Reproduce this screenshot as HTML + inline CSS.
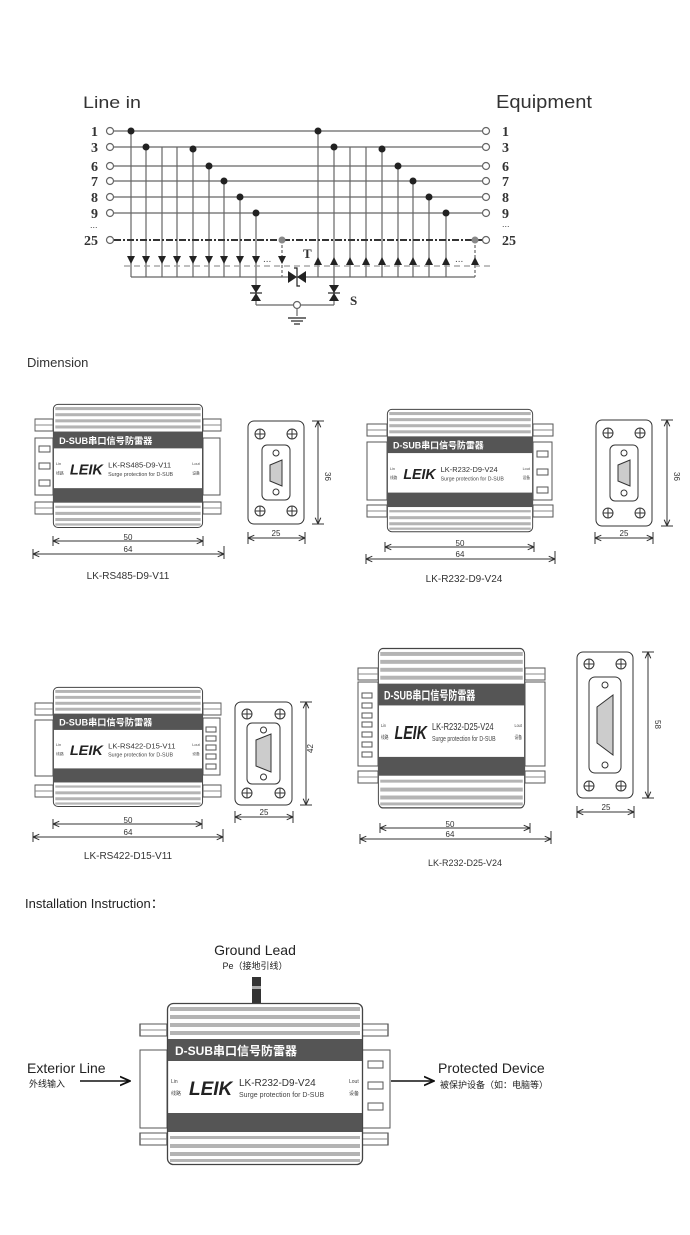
<!DOCTYPE html>
<html><head><meta charset="utf-8"><style>
html,body{margin:0;padding:0;background:#fff}
svg{display:block}
text{font-family:"Liberation Sans","Noto Sans CJK SC",sans-serif}
text.sf{font-family:"Liberation Serif","Noto Serif CJK SC",serif}
</style></head><body>
<svg width="690" height="1235" viewBox="0 0 690 1235" xmlns="http://www.w3.org/2000/svg">
<defs>
<marker id="ar" viewBox="0 0 10 10" refX="9" refY="5" markerWidth="7" markerHeight="7" orient="auto-start-reverse"><path d="M0,1 L9,5 L0,9" fill="none" stroke="#333" stroke-width="1.5"/></marker>
<marker id="ar2" viewBox="0 0 10 10" refX="9" refY="5" markerWidth="8" markerHeight="8" orient="auto"><path d="M0,1 L9,5 L0,9" fill="none" stroke="#111" stroke-width="1.6"/></marker>
<g id="body">
<rect x="0.5" y="0.5" width="195" height="161" rx="6" fill="#fff" stroke="#444" stroke-width="1.3"/>
<g fill="#b4b4b4"><rect x="3" y="4" width="190" height="4"/><rect x="3" y="12" width="190" height="4"/><rect x="3" y="20" width="190" height="4"/><rect x="3" y="28" width="190" height="4"/>
<rect x="3" y="133" width="190" height="3"/><rect x="3" y="141" width="190" height="4"/><rect x="3" y="149" width="190" height="4"/><rect x="3" y="156" width="190" height="3"/></g>
<rect x="1" y="36" width="194" height="22" fill="#555"/>
<rect x="1" y="110" width="194" height="19" fill="#555"/>
</g>
<g id="tab"><rect x="0" y="0" width="20" height="12" fill="#fff" stroke="#555"/><line x1="0" y1="6" x2="20" y2="6" stroke="#888"/></g>
<g id="scr"><circle r="5" fill="#fff" stroke="#333"/><line x1="-5" y1="0" x2="5" y2="0" stroke="#333"/><line x1="0" y1="-5" x2="0" y2="5" stroke="#333"/></g>
</defs>

<!-- ===== Circuit ===== -->
<text x="83" y="108" font-size="17" fill="#333" textLength="58" lengthAdjust="spacingAndGlyphs">Line in</text>
<text x="496" y="108" font-size="18" fill="#333" textLength="96" lengthAdjust="spacingAndGlyphs">Equipment</text>
<g font-weight="bold" font-size="14" fill="#333">
<text class="sf" x="91" y="136">1</text><text class="sf" x="91" y="152">3</text><text class="sf" x="91" y="171">6</text><text class="sf" x="91" y="186">7</text><text class="sf" x="91" y="202">8</text><text class="sf" x="91" y="218">9</text><text class="sf" x="84" y="245">25</text>
<text class="sf" x="502" y="136">1</text><text class="sf" x="502" y="152">3</text><text class="sf" x="502" y="171">6</text><text class="sf" x="502" y="186">7</text><text class="sf" x="502" y="202">8</text><text class="sf" x="502" y="218">9</text><text class="sf" x="502" y="245">25</text>
<text class="sf" x="303" y="258" font-size="13">T</text><text class="sf" x="350" y="305" font-size="13">S</text>
</g>
<text x="90" y="228" font-size="9" fill="#444">...</text><text x="502" y="227" font-size="9" fill="#444">...</text>
<g stroke="#666" stroke-width="1.2" fill="none">
<line x1="114" y1="131" x2="482" y2="131"/><line x1="114" y1="147" x2="482" y2="147"/><line x1="114" y1="166" x2="482" y2="166"/><line x1="114" y1="181" x2="482" y2="181"/><line x1="114" y1="197" x2="482" y2="197"/><line x1="114" y1="213" x2="482" y2="213"/>
<line x1="131" y1="131" x2="131" y2="277"/><line x1="146" y1="147" x2="146" y2="277"/><line x1="162" y1="147" x2="162" y2="277"/><line x1="177" y1="147" x2="177" y2="277"/><line x1="193" y1="147" x2="193" y2="277"/><line x1="209" y1="166" x2="209" y2="277"/><line x1="224" y1="181" x2="224" y2="277"/><line x1="240" y1="197" x2="240" y2="277"/><line x1="256" y1="213" x2="256" y2="305"/>
<line x1="318" y1="131" x2="318" y2="277"/><line x1="334" y1="147" x2="334" y2="305"/><line x1="350" y1="147" x2="350" y2="277"/><line x1="366" y1="147" x2="366" y2="277"/><line x1="382" y1="147" x2="382" y2="277"/><line x1="398" y1="166" x2="398" y2="277"/><line x1="413" y1="181" x2="413" y2="277"/><line x1="429" y1="197" x2="429" y2="277"/><line x1="446" y1="213" x2="446" y2="277"/>
<line x1="282" y1="240" x2="282" y2="277" stroke-dasharray="3,2"/><line x1="475" y1="240" x2="475" y2="277" stroke-dasharray="3,2"/>
<line x1="131" y1="277" x2="282" y2="277"/><line x1="282" y1="277" x2="289" y2="277"/><line x1="306" y1="277" x2="475" y2="277"/>
<line x1="256" y1="305" x2="334" y2="305"/><line x1="297" y1="305" x2="297" y2="316"/>
</g>
<line x1="114" y1="240" x2="482" y2="240" stroke="#333" stroke-width="2" stroke-dasharray="7,2,2,2"/>
<line x1="124" y1="266" x2="490" y2="266" stroke="#999" stroke-width="1.2" stroke-dasharray="6,4"/>
<g fill="#fff" stroke="#666" stroke-width="1.2">
<circle cx="110" cy="131" r="3.5"/><circle cx="110" cy="147" r="3.5"/><circle cx="110" cy="166" r="3.5"/><circle cx="110" cy="181" r="3.5"/><circle cx="110" cy="197" r="3.5"/><circle cx="110" cy="213" r="3.5"/><circle cx="110" cy="240" r="3.5"/>
<circle cx="486" cy="131" r="3.5"/><circle cx="486" cy="147" r="3.5"/><circle cx="486" cy="166" r="3.5"/><circle cx="486" cy="181" r="3.5"/><circle cx="486" cy="197" r="3.5"/><circle cx="486" cy="213" r="3.5"/><circle cx="486" cy="240" r="3.5"/>
<circle cx="297" cy="305" r="3.5"/>
</g>
<g fill="#222">
<circle cx="131" cy="131" r="3.5"/><circle cx="146" cy="147" r="3.5"/><circle cx="193" cy="149" r="3.5"/><circle cx="209" cy="166" r="3.5"/><circle cx="224" cy="181" r="3.5"/><circle cx="240" cy="197" r="3.5"/><circle cx="256" cy="213" r="3.5"/>
<circle cx="318" cy="131" r="3.5"/><circle cx="334" cy="147" r="3.5"/><circle cx="382" cy="149" r="3.5"/><circle cx="398" cy="166" r="3.5"/><circle cx="413" cy="181" r="3.5"/><circle cx="429" cy="197" r="3.5"/><circle cx="446" cy="213" r="3.5"/>
</g>
<circle cx="282" cy="240" r="3.5" fill="#888"/><circle cx="475" cy="240" r="3.5" fill="#888"/>
<g fill="#222">
<path d="M127,256 h8 l-4,8z"/><path d="M142,256 h8 l-4,8z"/><path d="M158,256 h8 l-4,8z"/><path d="M173,256 h8 l-4,8z"/><path d="M189,256 h8 l-4,8z"/><path d="M205,256 h8 l-4,8z"/><path d="M220,256 h8 l-4,8z"/><path d="M236,256 h8 l-4,8z"/><path d="M252,256 h8 l-4,8z"/><path d="M278,256 h8 l-4,8z"/>
<path d="M314,265 h8 l-4,-8z"/><path d="M330,265 h8 l-4,-8z"/><path d="M346,265 h8 l-4,-8z"/><path d="M362,265 h8 l-4,-8z"/><path d="M378,265 h8 l-4,-8z"/><path d="M394,265 h8 l-4,-8z"/><path d="M409,265 h8 l-4,-8z"/><path d="M425,265 h8 l-4,-8z"/><path d="M442,265 h8 l-4,-8z"/><path d="M471,265 h8 l-4,-8z"/>
<path d="M288,271 l9,6 l-9,6z"/><path d="M306,271 l-9,6 l9,6z"/>
<path d="M251,285 h10 l-5,8z"/><path d="M251,301 h10 l-5,-8z"/><path d="M329,285 h10 l-5,8z"/><path d="M329,301 h10 l-5,-8z"/>
</g>
<g stroke="#222" stroke-width="1.2" fill="none"><path d="M294,268 h3 v18 h3"/><path d="M250,293 h12"/><path d="M328,293 h12"/>
<line x1="288" y1="318" x2="306" y2="318"/><line x1="291" y1="321" x2="303" y2="321"/><line x1="294" y1="324" x2="300" y2="324"/></g>
<text x="263" y="262" font-size="10" fill="#444">...</text><text x="455" y="262" font-size="10" fill="#444">...</text>

<!-- ===== Dimension ===== -->
<text x="27" y="367" font-size="13" fill="#333">Dimension</text>

<!-- Device 1 -->
<use href="#tab" transform="translate(35,419) scale(0.9,1)"/><use href="#tab" transform="translate(35,502) scale(0.9,1)"/>
<use href="#tab" transform="translate(203,419) scale(0.9,1)"/><use href="#tab" transform="translate(203,502) scale(0.9,1)"/>
<rect x="35" y="438" width="18" height="57" fill="#fff" stroke="#555"/>
<rect x="39" y="446" width="11" height="6" fill="#fff" stroke="#555"/><rect x="39" y="463" width="11" height="6" fill="#fff" stroke="#555"/><rect x="39" y="480" width="11" height="6" fill="#fff" stroke="#555"/>
<rect x="203" y="438" width="17" height="57" fill="#fff" stroke="#555"/>
<g transform="translate(53,404) scale(0.765,0.765)">
<use href="#body"/>
<text x="8" y="52" font-size="12" font-weight="bold" fill="#fff">D-SUB串口信号防雷器</text>
<text x="22" y="92" font-size="19" font-weight="bold" font-style="italic" fill="#222">LEIK</text>
<text x="72" y="83" font-size="10" fill="#333">LK-RS485-D9-V11</text>
<text x="72" y="94" font-size="7" fill="#444">Surge protection for D-SUB</text>
<text x="4" y="80" font-size="5" fill="#444">Lin</text><text x="4" y="92" font-size="5" fill="#444">线路</text>
<text x="182" y="80" font-size="5" fill="#444">Lout</text><text x="182" y="92" font-size="5" fill="#444">设备</text>
</g>
<line x1="53" y1="541" x2="203" y2="541" stroke="#333" marker-start="url(#ar)" marker-end="url(#ar)"/>
<line x1="33" y1="554" x2="224" y2="554" stroke="#333" marker-start="url(#ar)" marker-end="url(#ar)"/>
<g stroke="#333"><line x1="53" y1="536" x2="53" y2="546"/><line x1="203" y1="536" x2="203" y2="546"/><line x1="33" y1="549" x2="33" y2="559"/><line x1="224" y1="546" x2="224" y2="559"/></g>
<text x="128" y="540" font-size="8" text-anchor="middle" fill="#333">50</text><text x="128" y="552" font-size="8" text-anchor="middle" fill="#333">64</text>
<text x="128" y="579" font-size="10" text-anchor="middle" fill="#333">LK-RS485-D9-V11</text>
<g transform="translate(248,421)">
<rect x="0" y="0" width="56" height="103" rx="6" fill="#fff" stroke="#333"/>
<use href="#scr" x="12" y="13"/><use href="#scr" x="44" y="13"/><use href="#scr" x="12" y="90"/><use href="#scr" x="44" y="90"/>
<rect x="14" y="24" width="28" height="55" rx="5" fill="#fff" stroke="#333"/>
<circle cx="28" cy="32" r="3" fill="#fff" stroke="#333"/><circle cx="28" cy="71" r="3" fill="#fff" stroke="#333"/>
<path d="M22,44 L34,39 L34,65 L22,60z" fill="#ccc" stroke="#333"/>
</g>
<line x1="318" y1="421" x2="318" y2="524" stroke="#333" marker-start="url(#ar)" marker-end="url(#ar)"/>
<g stroke="#333"><line x1="312" y1="421" x2="324" y2="421"/><line x1="312" y1="524" x2="324" y2="524"/><line x1="248" y1="532" x2="248" y2="544"/><line x1="305" y1="532" x2="305" y2="544"/></g>
<text x="325" y="472" font-size="8" fill="#333" transform="rotate(90 325 472)">36</text>
<line x1="248" y1="538" x2="305" y2="538" stroke="#333" marker-start="url(#ar)" marker-end="url(#ar)"/>
<text x="276" y="536" font-size="8" text-anchor="middle" fill="#333">25</text>

<!-- Device 2 -->
<use href="#tab" transform="translate(367,424)"/><use href="#tab" transform="translate(367,505)"/>
<use href="#tab" transform="translate(533,424)"/><use href="#tab" transform="translate(533,505)"/>
<rect x="367" y="442" width="20" height="58" fill="#fff" stroke="#555"/>
<rect x="533" y="442" width="19" height="58" fill="#fff" stroke="#555"/>
<rect x="537" y="451" width="11" height="6" fill="#fff" stroke="#555"/><rect x="537" y="469" width="11" height="6" fill="#fff" stroke="#555"/><rect x="537" y="487" width="11" height="6" fill="#fff" stroke="#555"/>
<g transform="translate(387,409) scale(0.745,0.76)">
<use href="#body"/>
<text x="8" y="52" font-size="12" font-weight="bold" fill="#fff">D-SUB串口信号防雷器</text>
<text x="22" y="92" font-size="19" font-weight="bold" font-style="italic" fill="#222">LEIK</text>
<text x="72" y="83" font-size="10" fill="#333">LK-R232-D9-V24</text>
<text x="72" y="94" font-size="7" fill="#444">Surge protection for D-SUB</text>
<text x="4" y="80" font-size="5" fill="#444">Lin</text><text x="4" y="92" font-size="5" fill="#444">线路</text>
<text x="182" y="80" font-size="5" fill="#444">Lout</text><text x="182" y="92" font-size="5" fill="#444">设备</text>
</g>
<line x1="385" y1="547" x2="534" y2="547" stroke="#333" marker-start="url(#ar)" marker-end="url(#ar)"/>
<line x1="366" y1="559" x2="555" y2="559" stroke="#333" marker-start="url(#ar)" marker-end="url(#ar)"/>
<g stroke="#333"><line x1="385" y1="542" x2="385" y2="552"/><line x1="534" y1="542" x2="534" y2="552"/><line x1="366" y1="554" x2="366" y2="564"/><line x1="555" y1="551" x2="555" y2="564"/></g>
<text x="460" y="546" font-size="8" text-anchor="middle" fill="#333">50</text><text x="460" y="557" font-size="8" text-anchor="middle" fill="#333">64</text>
<text x="464" y="582" font-size="10" text-anchor="middle" fill="#333">LK-R232-D9-V24</text>
<g transform="translate(596,420)">
<rect x="0" y="0" width="56" height="106" rx="6" fill="#fff" stroke="#333"/>
<use href="#scr" x="12" y="13"/><use href="#scr" x="44" y="13"/><use href="#scr" x="12" y="93"/><use href="#scr" x="44" y="93"/>
<rect x="14" y="25" width="28" height="56" rx="5" fill="#fff" stroke="#333"/>
<circle cx="28" cy="33" r="3" fill="#fff" stroke="#333"/><circle cx="28" cy="73" r="3" fill="#fff" stroke="#333"/>
<path d="M22,45 L34,40 L34,66 L22,61z" fill="#ccc" stroke="#333"/>
</g>
<line x1="667" y1="420" x2="667" y2="526" stroke="#333" marker-start="url(#ar)" marker-end="url(#ar)"/>
<g stroke="#333"><line x1="661" y1="420" x2="673" y2="420"/><line x1="661" y1="526" x2="673" y2="526"/><line x1="595" y1="532" x2="595" y2="544"/><line x1="653" y1="532" x2="653" y2="544"/></g>
<text x="674" y="472" font-size="8" fill="#333" transform="rotate(90 674 472)">36</text>
<line x1="595" y1="538" x2="653" y2="538" stroke="#333" marker-start="url(#ar)" marker-end="url(#ar)"/>
<text x="624" y="536" font-size="8" text-anchor="middle" fill="#333">25</text>

<!-- Device 3 -->
<use href="#tab" transform="translate(35,703) scale(0.9,1)"/><use href="#tab" transform="translate(35,785) scale(0.9,1)"/>
<use href="#tab" transform="translate(203,703) scale(0.9,1)"/><use href="#tab" transform="translate(203,785) scale(0.9,1)"/>
<rect x="35" y="720" width="18" height="56" fill="#fff" stroke="#555"/>
<rect x="203" y="718" width="17" height="57" fill="#fff" stroke="#555"/>
<g fill="#fff" stroke="#555"><rect x="206" y="727" width="10" height="5"/><rect x="206" y="736" width="10" height="5"/><rect x="206" y="745" width="10" height="5"/><rect x="206" y="754" width="10" height="5"/><rect x="206" y="764" width="10" height="5"/></g>
<g transform="translate(53,687) scale(0.765,0.74)">
<use href="#body"/>
<text x="8" y="52" font-size="12" font-weight="bold" fill="#fff">D-SUB串口信号防雷器</text>
<text x="22" y="92" font-size="19" font-weight="bold" font-style="italic" fill="#222">LEIK</text>
<text x="72" y="83" font-size="10" fill="#333">LK-RS422-D15-V11</text>
<text x="72" y="94" font-size="7" fill="#444">Surge protection for D-SUB</text>
<text x="4" y="80" font-size="5" fill="#444">Lin</text><text x="4" y="92" font-size="5" fill="#444">线路</text>
<text x="182" y="80" font-size="5" fill="#444">Lout</text><text x="182" y="92" font-size="5" fill="#444">设备</text>
</g>
<line x1="53" y1="824" x2="202" y2="824" stroke="#333" marker-start="url(#ar)" marker-end="url(#ar)"/>
<line x1="33" y1="837" x2="223" y2="837" stroke="#333" marker-start="url(#ar)" marker-end="url(#ar)"/>
<g stroke="#333"><line x1="53" y1="819" x2="53" y2="829"/><line x1="202" y1="819" x2="202" y2="829"/><line x1="33" y1="832" x2="33" y2="842"/><line x1="223" y1="829" x2="223" y2="842"/></g>
<text x="128" y="823" font-size="8" text-anchor="middle" fill="#333">50</text><text x="128" y="835" font-size="8" text-anchor="middle" fill="#333">64</text>
<text x="128" y="859" font-size="10" text-anchor="middle" fill="#333">LK-RS422-D15-V11</text>
<g transform="translate(235,702)">
<rect x="0" y="0" width="57" height="103" rx="6" fill="#fff" stroke="#333"/>
<use href="#scr" x="12" y="12"/><use href="#scr" x="45" y="12"/><use href="#scr" x="12" y="91"/><use href="#scr" x="45" y="91"/>
<rect x="12" y="21" width="33" height="61" rx="5" fill="#fff" stroke="#333"/>
<circle cx="28.5" cy="28" r="3" fill="#fff" stroke="#333"/><circle cx="28.5" cy="75" r="3" fill="#fff" stroke="#333"/>
<path d="M21,38 L36,32 L36,70 L21,64z" fill="#ccc" stroke="#333"/>
</g>
<line x1="306" y1="702" x2="306" y2="805" stroke="#333" marker-start="url(#ar)" marker-end="url(#ar)"/>
<g stroke="#333"><line x1="300" y1="702" x2="312" y2="702"/><line x1="300" y1="805" x2="312" y2="805"/><line x1="235" y1="811" x2="235" y2="823"/><line x1="293" y1="811" x2="293" y2="823"/></g>
<text x="313" y="753" font-size="8" fill="#333" transform="rotate(-90 313 753)">42</text>
<line x1="235" y1="817" x2="293" y2="817" stroke="#333" marker-start="url(#ar)" marker-end="url(#ar)"/>
<text x="264" y="815" font-size="8" text-anchor="middle" fill="#333">25</text>

<!-- Device 4 -->
<use href="#tab" transform="translate(358,668)"/><use href="#tab" transform="translate(358,771)"/>
<use href="#tab" transform="translate(525,668)"/><use href="#tab" transform="translate(525,771)"/>
<rect x="358" y="682" width="20" height="84" fill="#fff" stroke="#555"/>
<g fill="#fff" stroke="#555"><rect x="362" y="693" width="10" height="5"/><rect x="362" y="703" width="10" height="5"/><rect x="362" y="713" width="10" height="5"/><rect x="362" y="722" width="10" height="5"/><rect x="362" y="732" width="10" height="5"/><rect x="362" y="742" width="10" height="5"/><rect x="362" y="752" width="10" height="5"/></g>
<rect x="525" y="682" width="20" height="84" fill="#fff" stroke="#555"/>
<g transform="translate(378,648) scale(0.75,0.99)">
<use href="#body"/>
<text x="8" y="52" font-size="12" font-weight="bold" fill="#fff">D-SUB串口信号防雷器</text>
<text x="22" y="92" font-size="19" font-weight="bold" font-style="italic" fill="#222">LEIK</text>
<text x="72" y="83" font-size="10" fill="#333">LK-R232-D25-V24</text>
<text x="72" y="94" font-size="7" fill="#444">Surge protection for D-SUB</text>
<text x="4" y="80" font-size="5" fill="#444">Lin</text><text x="4" y="92" font-size="5" fill="#444">线路</text>
<text x="182" y="80" font-size="5" fill="#444">Lout</text><text x="182" y="92" font-size="5" fill="#444">设备</text>
</g>
<line x1="380" y1="828" x2="530" y2="828" stroke="#333" marker-start="url(#ar)" marker-end="url(#ar)"/>
<line x1="360" y1="839" x2="551" y2="839" stroke="#333" marker-start="url(#ar)" marker-end="url(#ar)"/>
<g stroke="#333"><line x1="380" y1="823" x2="380" y2="833"/><line x1="530" y1="823" x2="530" y2="833"/><line x1="360" y1="834" x2="360" y2="844"/><line x1="551" y1="831" x2="551" y2="844"/></g>
<text x="450" y="827" font-size="8" text-anchor="middle" fill="#333">50</text><text x="450" y="837" font-size="8" text-anchor="middle" fill="#333">64</text>
<text x="465" y="866" font-size="9" text-anchor="middle" fill="#333">LK-R232-D25-V24</text>
<g transform="translate(577,652)">
<rect x="0" y="0" width="56" height="146" rx="6" fill="#fff" stroke="#333"/>
<use href="#scr" x="12" y="12"/><use href="#scr" x="44" y="12"/><use href="#scr" x="12" y="134"/><use href="#scr" x="44" y="134"/>
<rect x="12" y="25" width="32" height="96" rx="6" fill="#fff" stroke="#333"/>
<circle cx="28" cy="33" r="3" fill="#fff" stroke="#333"/><circle cx="28" cy="113" r="3" fill="#fff" stroke="#333"/>
<path d="M20,55 L36,43 L36,103 L20,91z" fill="#ccc" stroke="#333"/>
</g>
<line x1="648" y1="652" x2="648" y2="798" stroke="#333" marker-start="url(#ar)" marker-end="url(#ar)"/>
<g stroke="#333"><line x1="642" y1="652" x2="654" y2="652"/><line x1="642" y1="798" x2="654" y2="798"/><line x1="577" y1="806" x2="577" y2="818"/><line x1="634" y1="806" x2="634" y2="818"/></g>
<text x="655" y="720" font-size="8" fill="#333" transform="rotate(90 655 720)">58</text>
<line x1="577" y1="812" x2="634" y2="812" stroke="#333" marker-start="url(#ar)" marker-end="url(#ar)"/>
<text x="606" y="810" font-size="8" text-anchor="middle" fill="#333">25</text>

<!-- ===== Installation ===== -->
<text x="25" y="908" font-size="13" fill="#222">Installation Instruction：</text>
<text x="255" y="955" font-size="14" text-anchor="middle" fill="#222">Ground Lead</text>
<text x="255" y="969" font-size="9" text-anchor="middle" fill="#222">Pe（接地引线）</text>
<rect x="252" y="977" width="9" height="27" fill="#333"/><rect x="252" y="986" width="9" height="3" fill="#aaa"/>
<use href="#tab" transform="translate(140,1024) scale(1.35,1)"/><use href="#tab" transform="translate(140,1133) scale(1.35,1)"/>
<use href="#tab" transform="translate(362,1024) scale(1.3,1)"/><use href="#tab" transform="translate(362,1133) scale(1.3,1)"/>
<rect x="140" y="1050" width="27" height="78" fill="#fff" stroke="#555"/>
<rect x="362" y="1050" width="28" height="78" fill="#fff" stroke="#555"/>
<g fill="#fff" stroke="#555"><rect x="368" y="1061" width="15" height="7"/><rect x="368" y="1082" width="15" height="7"/><rect x="368" y="1103" width="15" height="7"/></g>
<g transform="translate(167,1003)">
<use href="#body"/>
<text x="8" y="52" font-size="12" font-weight="bold" fill="#fff">D-SUB串口信号防雷器</text>
<text x="22" y="92" font-size="19" font-weight="bold" font-style="italic" fill="#222">LEIK</text>
<text x="72" y="83" font-size="10" fill="#333">LK-R232-D9-V24</text>
<text x="72" y="94" font-size="7" fill="#444">Surge protection for D-SUB</text>
<text x="4" y="80" font-size="5" fill="#444">Lin</text><text x="4" y="92" font-size="5" fill="#444">线路</text>
<text x="182" y="80" font-size="5" fill="#444">Lout</text><text x="182" y="92" font-size="5" fill="#444">设备</text>
</g>
<text x="27" y="1073" font-size="14" fill="#222">Exterior Line</text>
<text x="29" y="1087" font-size="9" fill="#222">外线输入</text>
<line x1="80" y1="1081" x2="130" y2="1081" stroke="#111" stroke-width="1.4" marker-end="url(#ar2)"/>
<text x="438" y="1073" font-size="14" fill="#222">Protected Device</text>
<text x="440" y="1088" font-size="9" fill="#222">被保护设备（如：电脑等）</text>
<line x1="391" y1="1081" x2="434" y2="1081" stroke="#111" stroke-width="1.4" marker-end="url(#ar2)"/>
</svg>
</body></html>
